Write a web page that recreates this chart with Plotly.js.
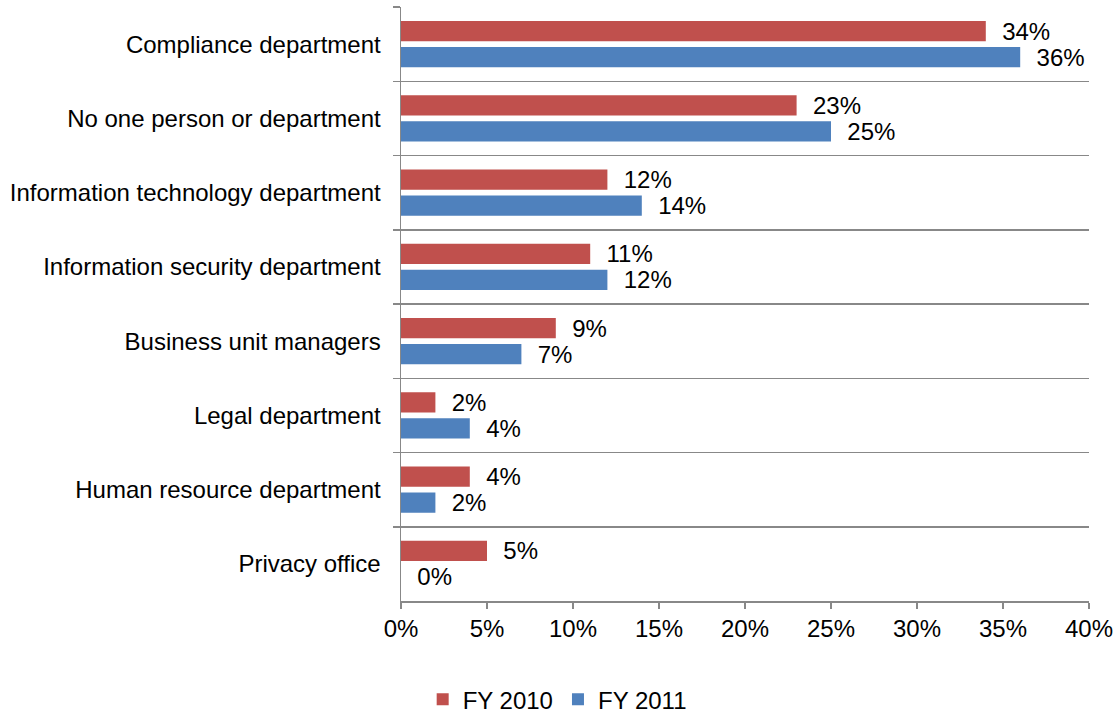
<!DOCTYPE html>
<html>
<head>
<meta charset="utf-8">
<script src="https://cdn.plot.ly/plotly-3.0.1.min.js"></script>
<style>html,body{margin:0;padding:0;background:#fff;}#chart{width:1120px;height:717px;}</style>
</head>
<body>
<div id="chart"></div>
<script>
const categories = [
  "Compliance department",
  "No one person or department",
  "Information technology department",
  "Information security department",
  "Business unit managers",
  "Legal department",
  "Human resource department",
  "Privacy office"
];
const fy2010 = [34, 23, 12, 11, 9, 2, 4, 5];
const fy2011 = [36, 25, 14, 12, 7, 4, 2, 0];
const seriesNames = ["FY 2010", "FY 2011"];
const xTickVals = [0, 5, 10, 15, 20, 25, 30, 35, 40];

const FONT = "Liberation Sans, Arial, sans-serif";
const fontSize = 24;

function barTrace(vals, name, color) {
  return {
    type: "bar",
    orientation: "h",
    y: categories,
    x: vals,
    name: name,
    marker: {color: color},
    text: vals.map(v => "\u00a0\u00a0" + v + "%"),
    textposition: "outside",
    constraintext: "none",
    cliponaxis: false,
    textfont: {family: FONT, size: fontSize, color: "#000"},
    outsidetextfont: {family: FONT, size: fontSize, color: "#000"},
    hoverinfo: "none"
  };
}

const data = [
  barTrace(fy2010, seriesNames[0], "#C0504D"),
  barTrace(fy2011, seriesNames[1], "#4F81BD")
];

const layout = {
  width: 1120,
  height: 717,
  margin: {l: 401, r: 31, t: 7, b: 116, autoexpand: false},
  paper_bgcolor: "#fff",
  plot_bgcolor: "#fff",
  font: {family: FONT, size: fontSize, color: "#000"},
  barmode: "group",
  bargap: 0.30,
  bargroupgap: 0.22,
  showlegend: true,
  legend: {
    orientation: "h",
    x: 0.227, xanchor: "center",
    y: -0.166, yanchor: "middle",
    font: {family: FONT, size: fontSize, color: "#000"},
    itemclick: false
  },
  xaxis: {
    range: [0, 40],
    tickvals: xTickVals,
    ticktext: xTickVals.map(v => v + "%"),
    showgrid: false,
    zeroline: false,
    showline: true,
    linecolor: "#888",
    linewidth: 1.5,
    ticks: "outside",
    ticklen: 6,
    tickwidth: 1.5,
    tickcolor: "#888",
    tickfont: {family: FONT, size: fontSize, color: "#000"},
    fixedrange: true
  },
  yaxis: {
    type: "category",
    autorange: "reversed",
    tickson: "boundaries",
    showgrid: true,
    gridcolor: "#888",
    gridwidth: 1.5,
    showline: true,
    linecolor: "#888",
    linewidth: 1.5,
    ticks: "outside",
    ticklen: 7,
    tickwidth: 1.5,
    tickcolor: "#888",
    tickfont: {family: FONT, size: fontSize, color: "#000"},
    ticklabelstandoff: 14,
    fixedrange: true
  }
};

Plotly.newPlot("chart", data, layout, {displayModeBar: false, staticPlot: true});
</script>
</body>
</html>
